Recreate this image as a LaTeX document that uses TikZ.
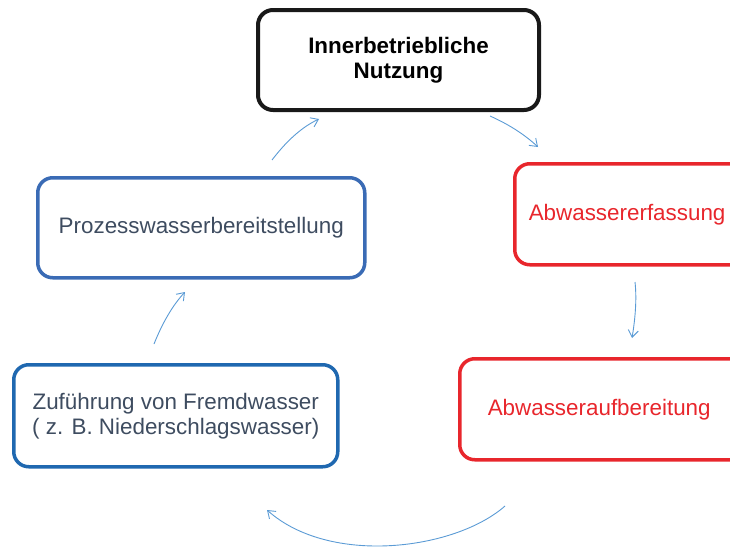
\documentclass[tikz,border=0pt]{standalone}
\usepackage{fontspec}
\setmainfont{Liberation Sans}
\usetikzlibrary{arrows.meta}
\definecolor{bblue}{HTML}{3A6BB5}
\definecolor{dblue}{HTML}{1F68B0}
\definecolor{rred}{HTML}{E8262C}
\definecolor{tgrey}{HTML}{3E4C60}
\definecolor{ablue}{HTML}{5B9BD5}
\tikzset{
  box/.style={draw, rounded corners=15pt, line width=3.5pt, inner sep=0pt, anchor=north west, font=\fontsize{22.4}{25}\selectfont, align=center},
  conn/.style={draw=ablue, line width=0.9pt, -{Straight Barb[length=7pt,width=10pt]}}
}
\begin{document}
\begin{tikzpicture}[x=1pt,y=-1pt]
\useasboundingbox (0,0) rectangle (730,546);
\clip (0,0) rectangle (730,546);
\node[box, draw=black!90, line width=4pt, minimum width=281pt, minimum height=100pt, font=\bfseries\fontsize{22.4}{25}\selectfont] (top) at (256,8) {Innerbetriebliche\\Nutzung};
\node[box, draw=rred, text=rred, minimum width=240pt, minimum height=101pt, text width=240pt, align=left] (erf) at (513,162) {\hspace*{14pt}Abwassererfassung};
\node[box, draw=rred, text=rred, minimum width=290pt, minimum height=101pt, text width=290pt, align=left] (auf) at (458,357) {\hspace*{28pt}Abwasseraufbereitung};
\node[box, draw=bblue, text=tgrey, minimum width=327pt, minimum height=100pt] (proz) at (36,176) {Prozesswasserbereitstellung};
\node[box, draw=dblue, text=tgrey, minimum width=324pt, minimum height=102pt] (zuf) at (12,363) {Zuführung von Fremdwasser\\( z. B. Niederschlagswasser)};
\coordinate (a1s) at (490,116);
\coordinate (a1e) at (538,147);
\coordinate (a2s) at (635,282);
\coordinate (a2e) at (632,338);
\coordinate (a3s) at (505,506);
\coordinate (a3e) at (267,510);
\coordinate (a4s) at (154,344);
\coordinate (a4e) at (185,292);
\coordinate (a5s) at (272,160);
\coordinate (a5e) at (319,119);
\draw[conn] (a1s) .. controls (508,124) and (524,134) .. (a1e);
\draw[conn] (a2s) .. controls (637,300) and (635,320) .. (a2e);
\draw[conn] (a3s) .. controls (455,550) and (330,566) .. (a3e);
\draw[conn] (a4s) .. controls (162,324) and (172,306) .. (a4e);
\draw[conn] (a5s) .. controls (285,143) and (300,128) .. (a5e);
\end{tikzpicture}
\end{document}
